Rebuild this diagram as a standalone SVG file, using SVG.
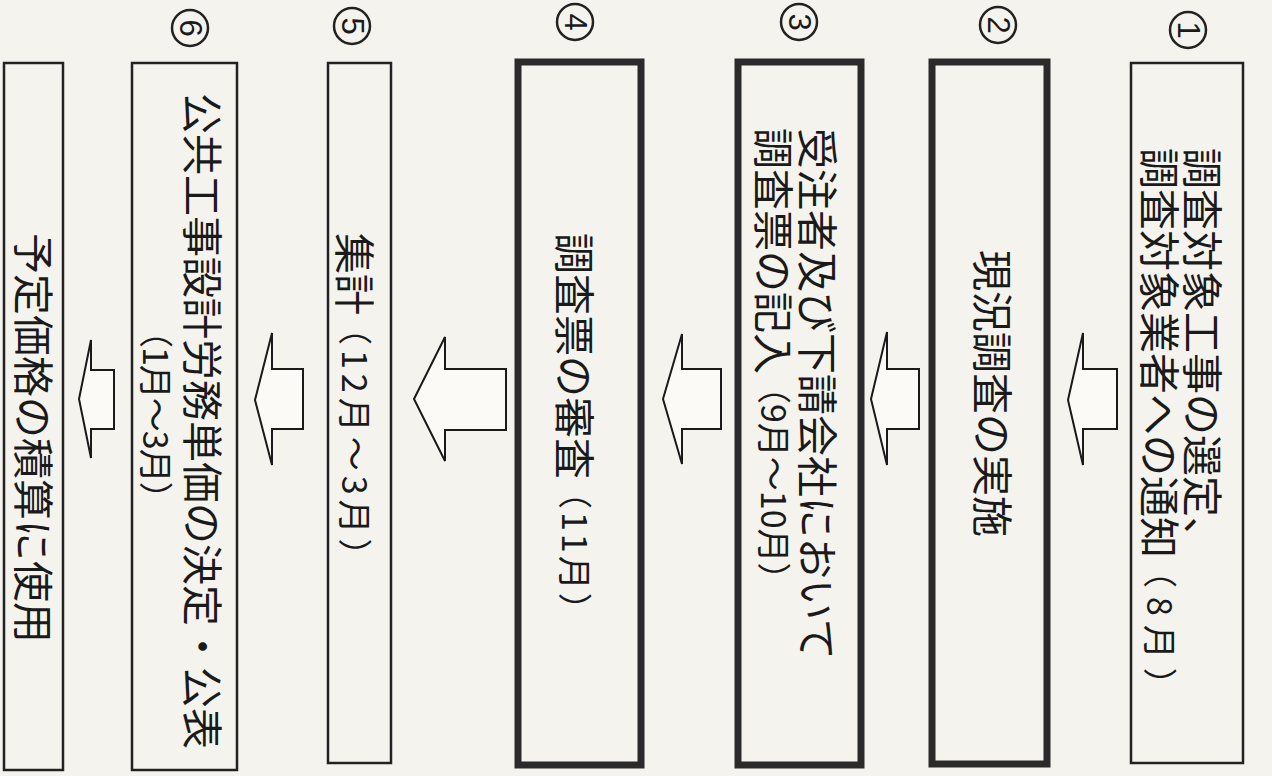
<svg xmlns="http://www.w3.org/2000/svg" width="1272" height="776" viewBox="0 0 1272 776">
<style>
.bg{fill:#f5f3ee}
.thin{fill:none;stroke:#222;stroke-width:2.5}
.thick{fill:none;stroke:#2a2a2a;stroke-width:7}
.arr{fill:#fbfaf6;stroke:#1a1a1a;stroke-width:2;stroke-linejoin:miter}
.t{font-family:"Noto Sans CJK JP","Noto Sans CJK SC",sans-serif;font-size:41px;fill:#1a1a1a;dominant-baseline:central}
.s{font-size:34px}
.num{fill:none;stroke:#222;stroke-width:2.5}
.n{font-family:"Liberation Sans",Arial,sans-serif;font-size:31px;fill:#1a1a1a;text-anchor:middle;dominant-baseline:central}
</style>
<rect class="bg" x="0" y="0" width="1272" height="776"/>
<g id="connectors">
<polygon class="arr" points="1068,400 1083,333 1083,369 1117,369 1117,429 1083,429 1083,465"/>
<polygon class="arr" points="871,399 887,332 887,369 919,369 919,429 887,429 887,465"/>
<polygon class="arr" points="663,399 682,334 682,369 721,369 721,429 682,429 682,464"/>
<polygon class="arr" points="414,399 445,337 445,369 506,369 506,430 445,430 445,461"/>
<polygon class="arr" points="255,400 272,333 272,369 303,369 303,429 272,429 272,465"/>
<polygon class="arr" points="79,399 91,340 91,370 114,370 114,429 91,429 91,458"/>
</g>
<g id="node1">
<rect class="thin" x="1131" y="63" width="112" height="700"/>
<circle class="num" cx="1188" cy="30" r="18"/>
<text class="n" transform="translate(1188,30) rotate(90)">1</text>
<text class="t" transform="translate(1205,148) rotate(90)">調査対象工事の選定、</text>
<text class="t" transform="translate(1162,148) rotate(90)">調査対象業者への通知<tspan class="s" dx="-4" letter-spacing="9">（8月）</tspan></text>
</g>
<g id="node2">
<rect class="thick" x="932" y="62" width="115" height="702"/>
<circle class="num" cx="998" cy="25" r="18"/>
<text class="n" transform="translate(998,25) rotate(90)">2</text>
<text class="t" transform="translate(995,250) rotate(90)">現況調査の実施</text>
</g>
<g id="node3">
<rect class="thick" x="738" y="62" width="123" height="703"/>
<circle class="num" cx="799" cy="22" r="18"/>
<text class="n" transform="translate(799,22) rotate(90)">3</text>
<text class="t" transform="translate(820,128) rotate(90)">受注者及び下請会社において</text>
<text class="t" transform="translate(776,128) rotate(90)">調査票の記入<tspan class="s" dx="-4">（9月～10月）</tspan></text>
</g>
<g id="node4">
<rect class="thick" x="518" y="62" width="123" height="703"/>
<circle class="num" cx="575" cy="22" r="18"/>
<text class="n" transform="translate(575,22) rotate(90)">4</text>
<text class="t" transform="translate(577,233) rotate(90)">調査票の審査<tspan class="s" dx="-4" letter-spacing="3">（11月）</tspan></text>
</g>
<g id="node5">
<rect class="thin" x="328" y="63" width="63" height="700"/>
<circle class="num" cx="352" cy="26" r="18"/>
<text class="n" transform="translate(352,26) rotate(90)">5</text>
<text class="t" transform="translate(357,233) rotate(90)">集計<tspan class="s" dx="-4" letter-spacing="5">（12月～3月）</tspan></text>
</g>
<g id="node6">
<rect class="thin" x="132" y="63" width="105" height="707"/>
<circle class="num" cx="190" cy="28" r="18"/>
<text class="n" transform="translate(190,28) rotate(90)">6</text>
<text class="t" transform="translate(205,93) rotate(90)">公共工事設計労務単価の決定・公表</text>
<text class="t s" transform="translate(157,314) rotate(90)" letter-spacing="-1">（1月～3月）</text>
</g>
<g id="node7">
<rect class="thin" x="4" y="63" width="59" height="707"/>
<text class="t" transform="translate(36,233) rotate(90)">予定価格の積算に使用</text>
</g>
</svg>
